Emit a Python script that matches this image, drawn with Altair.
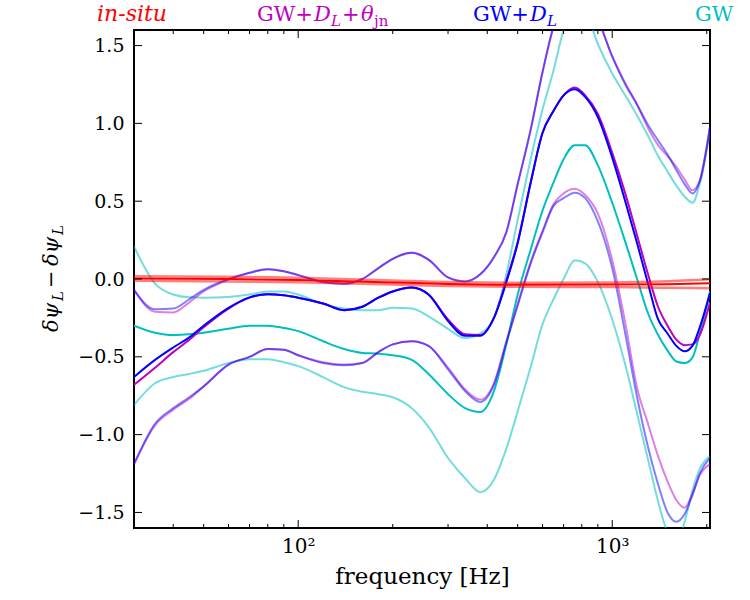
import altair as alt
import pandas as pd

# ---------------- data ----------------
FREQ = [30, 35, 40, 45, 50, 60, 70, 80, 90, 100, 120, 140, 160, 180, 200, 230, 260,
        300, 340, 380, 420, 460, 500, 550, 600, 650, 700, 760, 820, 900, 1000, 1100,
        1200, 1300, 1400, 1500, 1600, 1700, 1800, 1900, 2048]

# GW only (cyan)
GW_LO = [-0.81, -0.67, -0.63, -0.61, -0.59, -0.54, -0.515, -0.515, -0.535, -0.56,
         -0.63, -0.695, -0.725, -0.74, -0.76, -0.83, -0.95, -1.15,
         -1.28, -1.37, -1.29, -1.09,
         -0.85, -0.565, -0.29, -0.13, 0.0, 0.12, 0.10, -0.02,
         -0.26, -0.55, -0.865, -1.16, -1.43, -1.63, -1.70, -1.56, -1.36, -1.22, -1.14]
GW_MED = [-0.30, -0.345, -0.36, -0.355, -0.345, -0.32, -0.30, -0.30, -0.315, -0.335,
          -0.40, -0.45, -0.475, -0.48, -0.49, -0.52, -0.61, -0.74,
          -0.83, -0.855, -0.72, -0.42,
          -0.10, 0.19, 0.44, 0.62, 0.77, 0.86, 0.86, 0.73,
          0.49, 0.24, 0.0, -0.22, -0.36, -0.46, -0.53, -0.54, -0.505, -0.35, -0.08]
GW_HI = [0.21, -0.03, -0.10, -0.118, -0.12, -0.115, -0.10, -0.08, -0.08, -0.10,
         -0.16, -0.19, -0.20, -0.20, -0.185, -0.19, -0.24, -0.32,
         -0.38, -0.35, -0.25, 0.03,
         0.38, 0.77, 1.09, 1.34, 1.60, 1.76, 1.72, 1.51,
         1.32, 1.18, 1.05, 0.92, 0.79, 0.69, 0.60, 0.53, 0.49, 0.61, 0.95]

# GW + D_L (blue)
GWD_LO = [-1.19, -0.93, -0.83, -0.76, -0.69, -0.55, -0.50, -0.45, -0.455, -0.49,
          -0.54, -0.555, -0.54, -0.47, -0.42, -0.40, -0.43, -0.58,
          -0.72, -0.79, -0.68, -0.41,
          -0.17, 0.10, 0.30, 0.47, 0.52, 0.555, 0.52, 0.37,
          0.07, -0.35, -0.76, -1.08, -1.32, -1.50, -1.56, -1.51, -1.39, -1.25, -1.15]
GWD_MED = [-0.63, -0.52, -0.44, -0.375, -0.30, -0.185, -0.118, -0.098, -0.105, -0.12,
           -0.157, -0.20, -0.178, -0.12, -0.08, -0.055, -0.10, -0.27,
           -0.365, -0.365, -0.25, -0.02,
           0.23, 0.62, 0.94, 1.08, 1.18, 1.22, 1.17, 1.04,
           0.78, 0.50, 0.23, -0.03, -0.26, -0.35, -0.43, -0.465, -0.43, -0.31, -0.09]
GWD_HI = [-0.07, -0.195, -0.19, -0.13, -0.07, 0.0, 0.04, 0.063, 0.05, 0.025,
          -0.02, -0.03, 0.0, 0.07, 0.13, 0.168, 0.125, 0.01,
          -0.017, 0.03, 0.14, 0.30,
          0.61, 0.96, 1.33, 1.62, 1.78, 1.86, 1.82, 1.67,
          1.43, 1.25, 1.12, 0.99, 0.89, 0.80, 0.70, 0.61, 0.55, 0.63, 0.98]

# GW + D_L + theta_jn (magenta)
GWDT_LO = [-1.19, -0.94, -0.84, -0.77, -0.69, -0.55, -0.50, -0.45, -0.455, -0.49,
           -0.535, -0.55, -0.54, -0.47, -0.42, -0.40, -0.43, -0.57,
           -0.71, -0.775, -0.67, -0.40,
           -0.16, 0.11, 0.31, 0.48, 0.55, 0.58, 0.54, 0.42,
           0.12, -0.28, -0.70, -0.93, -1.14, -1.30, -1.42, -1.47, -1.38, -1.26, -1.19]
GWDT_MED = [-0.68, -0.57, -0.47, -0.39, -0.31, -0.19, -0.12, -0.098, -0.105, -0.12,
            -0.157, -0.20, -0.178, -0.12, -0.08, -0.055, -0.10, -0.26,
            -0.355, -0.36, -0.25, -0.01,
            0.24, 0.62, 0.94, 1.08, 1.18, 1.23, 1.18, 1.06,
            0.81, 0.55, 0.28, 0.03, -0.18, -0.30, -0.39, -0.425, -0.42, -0.36, -0.15]
GWDT_HI = [-0.07, -0.21, -0.215, -0.15, -0.08, -0.005, 0.04, 0.063, 0.05, 0.025,
           -0.02, -0.03, 0.0, 0.07, 0.13, 0.168, 0.125, 0.01,
           -0.015, 0.03, 0.14, 0.30,
           0.61, 0.96, 1.33, 1.62, 1.78, 1.86, 1.82, 1.67,
           1.43, 1.26, 1.12, 0.97, 0.86, 0.79, 0.72, 0.64, 0.57, 0.63, 0.98]

# in-situ (red)
RED_FREQ = [30, 60, 100, 200, 300, 500, 1000, 1500, 2048]
INSITU_HI = [0.018, 0.014, 0.008, -0.01, -0.02, -0.024, -0.022, -0.014, -0.002]
INSITU_MED = [0.004, 0.0, -0.007, -0.022, -0.032, -0.037, -0.036, -0.033, -0.028]
INSITU_LO = [-0.012, -0.016, -0.021, -0.036, -0.045, -0.05, -0.052, -0.056, -0.06]

# ticks
X_MAJOR = [100, 1000]
X_MINOR = [40, 50, 60, 70, 80, 90, 200, 300, 400, 500, 600, 700, 800, 900, 2000]
Y_MAJOR = [-1.5, -1.0, -0.5, 0.0, 0.5, 1.0, 1.5]

# ---------------- chart ----------------
W, H = 576, 498
FONT = "DejaVu Serif"

xscale = alt.Scale(type="log", domain=[30, 2048], nice=False)
yscale = alt.Scale(domain=[-1.6, 1.6], nice=False, zero=False)

X = alt.X("f:Q", scale=xscale,
          axis=alt.Axis(values=X_MAJOR, labelExpr="datum.value < 500 ? '10²' : '10³'",
                        ticks=False, domain=False, grid=False,
                        labelFont=FONT, labelFontSize=20, labelColor="black",
                        labelPadding=8,
                        title="frequency [Hz]", titleFont=FONT, titleFontSize=23,
                        titleFontWeight="normal", titleColor="black", titlePadding=9))
Y = alt.Y("v:Q", scale=yscale,
          axis=alt.Axis(values=Y_MAJOR, format=".1f", ticks=False, domain=False,
                        grid=False, labelFont=FONT, labelFontSize=19,
                        labelColor="black", labelPadding=10, title=None))


def curve(vals, color, opacity=1.0, width=2.0, freqs=FREQ):
    df = pd.DataFrame({"f": freqs, "v": vals})
    return alt.Chart(df).mark_line(color=color, opacity=opacity, strokeWidth=width,
                                   interpolate="monotone", clip=True).encode(x=X, y=Y)


def xticks(vals, length, top):
    df = pd.DataFrame({"f": vals})
    y0, y1 = (0, length) if top else (H, H - length)
    return alt.Chart(df).mark_rule(color="black", strokeWidth=1).encode(
        x=X, y=alt.value(y0), y2=alt.value(y1))


def yticks(vals, length, right):
    df = pd.DataFrame({"v": vals})
    x0, x1 = (W, W - length) if right else (0, length)
    return alt.Chart(df).mark_rule(color="black", strokeWidth=1).encode(
        y=Y, x=alt.value(x0), x2=alt.value(x1))


def label(text, x, y, color, size, italic=False, angle=0):
    return alt.Chart(alt.Data(values=[{}])).mark_text(
        text=text, color=color, fontSize=size, font=FONT,
        fontStyle="italic" if italic else "normal",
        align="left", baseline="alphabetic", angle=angle).encode(
        x=alt.value(x), y=alt.value(y))


CYAN, BLUE, MAG, RED = "#00bfbf", "#0000ff", "#bf00bf", "#ff0000"

layers = [
    curve(GW_LO, CYAN, 0.55), curve(GW_HI, CYAN, 0.55), curve(GW_MED, CYAN),
    curve(GWDT_LO, MAG, 0.5), curve(GWDT_HI, MAG, 0.5),
    curve(GWD_LO, BLUE, 0.5), curve(GWD_HI, BLUE, 0.5),
    curve(GWDT_MED, MAG), curve(GWD_MED, BLUE),
    curve(INSITU_LO, RED, 0.5, 2.5, RED_FREQ), curve(INSITU_HI, RED, 0.5, 2.5, RED_FREQ),
    curve(INSITU_MED, RED, 1.0, 2.0, RED_FREQ),
    xticks(X_MAJOR, 8, False), xticks(X_MAJOR, 8, True),
    xticks(X_MINOR, 4, False), xticks(X_MINOR, 4, True),
    yticks(Y_MAJOR, 8, False), yticks(Y_MAJOR, 8, True),
    # header labels
    label("in-situ", -37, -9, RED, 22, italic=True),
    label("GW+", 123, -9, MAG, 21),
    label("D", 180, -9, MAG, 21, italic=True),
    label("L", 197, -4, MAG, 15, italic=True),
    label("+", 208, -9, MAG, 21),
    label("θ", 227, -9, MAG, 21, italic=True),
    label("jn", 240, -4, MAG, 15),
    label("GW+", 339, -9, BLUE, 21),
    label("D", 396, -9, BLUE, 21, italic=True),
    label("L", 413, -4, BLUE, 15, italic=True),
    label("GW", 561, -9, CYAN, 21),
    # y-axis title (reads bottom to top)
    label("δψ", -76, 302, "black", 21, italic=True, angle=270),
    label("L", -71, 271, "black", 15, italic=True, angle=270),
    label("−", -76, 258, "black", 21, angle=270),
    label("δψ", -76, 236, "black", 21, italic=True, angle=270),
    label("L", -71, 205, "black", 15, italic=True, angle=270),
]

chart = alt.layer(*layers).properties(
    width=W, height=H,
    padding={"left": 134, "top": 30, "right": 40, "bottom": 72},
    autosize=alt.AutoSizeParams(type="none"),
    background="white",
).configure_view(stroke="black", strokeWidth=2)

chart.save("out.html", embed_options={"renderer": "svg", "actions": False})
